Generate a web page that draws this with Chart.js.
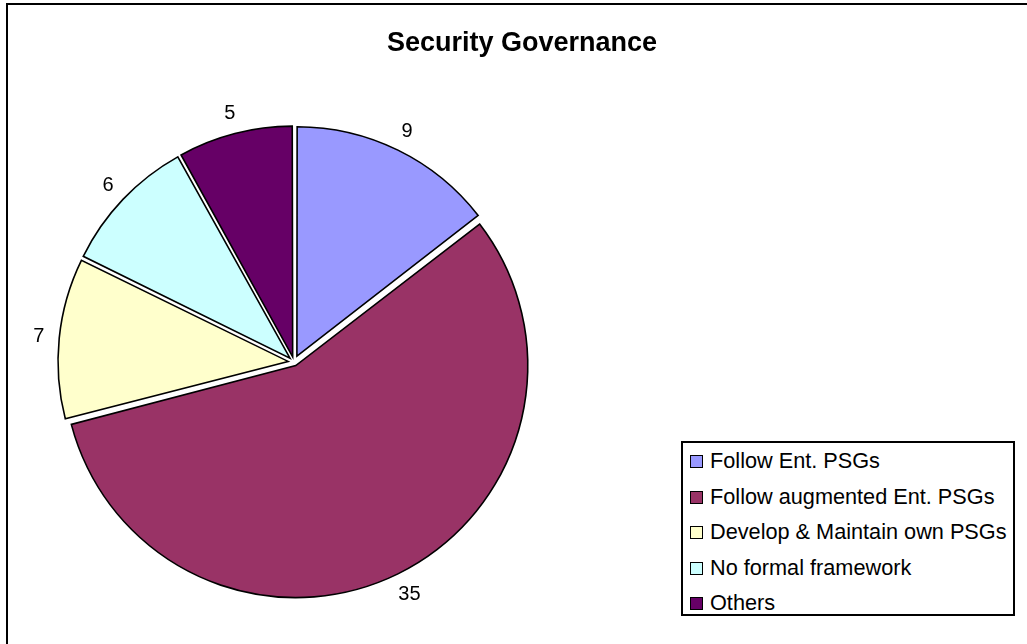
<html>
<head>
<meta charset="utf-8">
<script src="https://cdn.jsdelivr.net/npm/chart.js@4.4.0/dist/chart.umd.min.js"></script>
<style>
  body { margin: 0; background: #fff; }
  #wrap { position: relative; width: 1027px; height: 644px; overflow: hidden; font-family: Arial, "Liberation Sans", sans-serif; }
  #frame { position: absolute; left: 6px; top: 3px; right: -10px; bottom: -10px; border-left: 2px solid #000; border-top: 2px solid #000; }
  #chart { position: absolute; left: 0; top: 0; }
  #title { position: absolute; left: 322px; width: 400px; top: 29px; text-align: center; font-weight: bold; font-size: 27px; line-height: 1; }
  #legend { position: absolute; left: 681px; top: 441px; width: 330px; height: 171px; border: 2px solid #000; background: #fff; }
  #legend div { height: 35.5px; line-height: 35.5px; font-size: 21.7px; white-space: nowrap; padding-left: 7px; }
  #legend span.sw { display: inline-block; width: 11px; height: 11px; border: 1px solid #000; margin-right: 7px; vertical-align: 0px; }
</style>
</head>
<body>
<div id="wrap">
  <div id="frame"></div>
  <canvas id="chart" width="1027" height="644"></canvas>
  <div id="title">Security Governance</div>
  <div id="legend"></div>
</div>

<script>
// chart data
var categories = ["Follow Ent. PSGs", "Follow augmented Ent. PSGs", "Develop & Maintain own PSGs", "No formal framework", "Others"];
var counts = [9, 35, 7, 6, 5];
var sliceColors = ["#9999FF", "#993366", "#FFFFCC", "#CCFFFF", "#660066"];

var explode = 8;   // px each slice is pulled out
var total = counts.reduce(function(a, b) { return a + b; }, 0);

// chart.js moves an arc by offset/4*(1+fix), so work back from the wanted distance
function sliceOffset(ctx) {
  var circ = ctx.raw / total * Math.PI * 2;
  var fix = 1 - Math.sin(Math.min(Math.PI, circ));
  return explode * 4 / (1 + fix);
}

// values outside each slice
var valueLabels = {
  id: 'valueLabels',
  afterDatasetsDraw: function(chart) {
    var c = chart.ctx;
    var meta = chart.getDatasetMeta(0);
    c.save();
    c.font = '20px Arial, "Liberation Sans"';
    c.fillStyle = '#000';
    c.textAlign = 'center';
    c.textBaseline = 'middle';
    meta.data.forEach(function(arc, i) {
      var p = arc.getProps(['x', 'y', 'startAngle', 'endAngle', 'outerRadius'], true);
      var mid = (p.startAngle + p.endAngle) / 2;
      var cx = Math.cos(mid), cy = Math.sin(mid);
      var txt = String(counts[i]);
      var w = c.measureText(txt).width, h = 14;
      var d = p.outerRadius + explode + 15;
      var x = p.x + cx * d + cx * w / 2;
      var y = p.y + cy * d + cy * h / 2;
      c.fillText(txt, x, y + 1);
    });
    c.restore();
  }
};

new Chart(document.getElementById('chart'), {
  type: 'pie',
  data: {
    labels: categories,
    datasets: [{
      data: counts,
      backgroundColor: sliceColors,
      borderColor: '#000',
      borderWidth: 1.6,
      borderJoinStyle: 'miter',
      offset: sliceOffset,
      hoverOffset: 0
    }]
  },
  options: {
    responsive: false,
    animation: false,
    radius: 228,
    layout: { padding: { left: 10, right: 449, top: 90, bottom: 10 } },
    plugins: {
      legend: { display: false },
      title: { display: false },
      tooltip: { enabled: false }
    },
    events: []
  },
  plugins: [valueLabels]
});

// boxed legend, bottom right
var leg = document.getElementById('legend');
categories.forEach(function(name, i) {
  var row = document.createElement('div');
  var sw = document.createElement('span');
  sw.className = 'sw';
  sw.style.background = sliceColors[i];
  row.appendChild(sw);
  row.appendChild(document.createTextNode(name));
  leg.appendChild(row);
});
</script>
</body>
</html>
